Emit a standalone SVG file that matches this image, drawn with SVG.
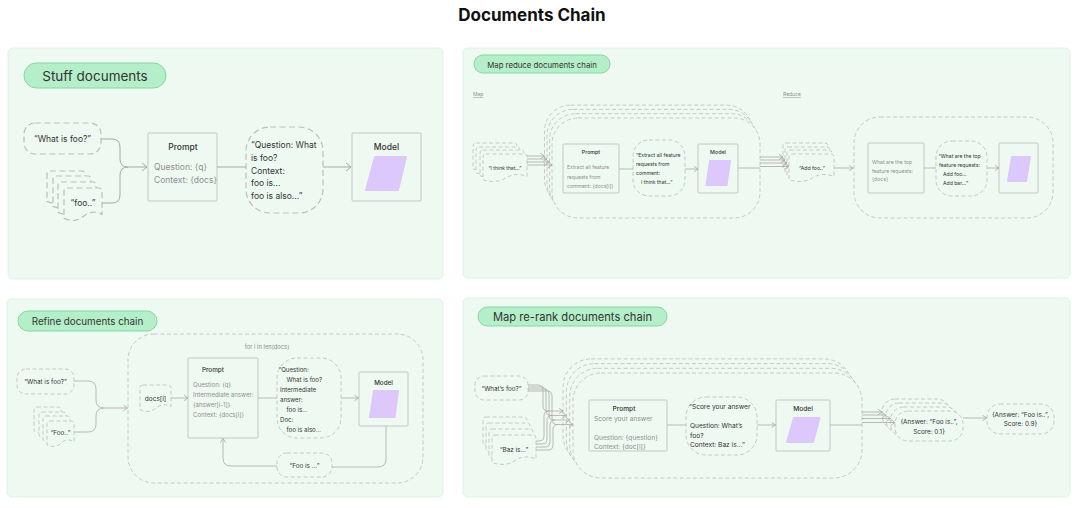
<svg xmlns="http://www.w3.org/2000/svg" xmlns:xlink="http://www.w3.org/1999/xlink" width="1080" height="508" viewBox="0 0 1080 508">
<style>
text{font-family:Inter,"Liberation Sans",sans-serif;fill:#333}
.title{font-size:17px;font-weight:700;fill:#111}
.panel{fill:#eefaf1;stroke:#dcf3e3;stroke-width:1}
.pill{fill:#b5efc9;stroke:#86d6a0;stroke-width:1}
.d1{fill:#eefaf1;stroke:#bdbdbd;stroke-width:1.2;stroke-dasharray:6 3.5}
.d2{fill:#eefaf1;stroke:#c2c2c2;stroke-width:0.9;stroke-dasharray:4 2.5}
.box{fill:#eefaf1;stroke:#c4c4c4;stroke-width:1}
.conn{fill:none;stroke:#a8a8a8;stroke-width:1}
.conn2{fill:none;stroke:#aaaaaa;stroke-width:0.8}
.para{fill:#dcc8fa;stroke:#dcc8fa;stroke-width:2;stroke-linejoin:round}
.g{fill:#8f8f8f}
.b{font-weight:500}
</style>
<defs>
<marker id="arr" markerUnits="userSpaceOnUse" markerWidth="6" markerHeight="10" viewBox="0 0 6 10" refX="5.5" refY="5" orient="auto"><path d="M0.5,1 L5.5,5 L0.5,9" fill="none" stroke="#a8a8a8" stroke-width="1"/></marker>
<marker id="arrs" markerUnits="userSpaceOnUse" markerWidth="5" markerHeight="7" viewBox="0 0 5 7" refX="4.5" refY="3.5" orient="auto"><path d="M0.5,0.8 L4.5,3.5 L0.5,6.2" fill="none" stroke="#a8a8a8" stroke-width="0.8"/></marker>
<path id="docA" d="M3,0 H35 Q38,0 38,3 V26.4 C30.4,22.4 24.7,23.8 19,28.7 C13.3,33.7 5.7,33 0,30.4 V3 Q0,0 3,0 Z"/>
<path id="docB" d="M3,0 H24 Q27,0 27,3 V20.8 C21.6,17.7 17.6,18.7 13.5,22.6 C9.5,26.5 4,26 0,23.9 V3 Q0,0 3,0 Z"/>
<path id="docC" d="M3,0 H28 Q31,0 31,3 V21.6 C24.8,18.4 20.2,19.4 15.5,23.5 C10.9,27.5 4.7,27 0,24.8 V3 Q0,0 3,0 Z"/>
<path id="docD" d="M3,0 H41 Q44,0 44,3 V22.4 C35.2,19 28.6,20.2 22,24.4 C15.4,28.6 6.6,28 0,25.8 V3 Q0,0 3,0 Z"/>
<path id="docE" d="M3,0 H42 Q45,0 45,3 V22.4 C36,19 29.3,20.2 22.5,24.4 C15.8,28.6 6.8,28 0,25.8 V3 Q0,0 3,0 Z"/>
<path id="docF" d="M3,0 H41 Q44,0 44,3 V24 C35.2,20.4 28.6,21.6 22,26.1 C15.4,30.6 6.6,30 0,27.6 V3 Q0,0 3,0 Z"/>
</defs>
<rect width="1080" height="508" fill="#ffffff"/>
<text class="title" x="532" y="21" text-anchor="middle">Documents Chain</text>

<!-- Panel 1: Stuff documents -->
<g id="panel-stuff">
<rect class="panel" x="8" y="48" width="435" height="231" rx="5"/>
<rect class="pill" x="24" y="63" width="142" height="25" rx="12.5"/>
<text x="95" y="81" font-size="13.5" text-anchor="middle">Stuff documents</text>
</g>
<g id="stuff-question">
<rect class="d1" x="24" y="123" width="77" height="31" rx="11"/>
<text x="62.5" y="142" font-size="8.5" text-anchor="middle">“What is foo?”</text>
</g>
<g id="stuff-docs">
<use xlink:href="#docA" class="d1" x="47" y="171"/>
<use xlink:href="#docA" class="d1" x="53" y="176"/>
<use xlink:href="#docA" class="d1" x="58" y="182"/>
<use xlink:href="#docA" class="d1" x="64" y="188"/>
<text x="83" y="206" font-size="8.5" text-anchor="middle">“foo..”</text>
</g>
<g id="stuff-prompt">
<rect class="box" x="148" y="133" width="69" height="68" rx="1"/>
<text class="b" x="183" y="150" font-size="8.5" text-anchor="middle">Prompt</text>
<text class="g" x="154" y="170" font-size="8.5">Question: {q}</text>
<text class="g" x="154" y="183" font-size="8.5">Context: {docs}</text>
</g>
<g id="stuff-filled">
<rect class="d1" x="246" y="127" width="77" height="86" rx="24"/>
<text x="251" y="148" font-size="8.5">“Question: What</text>
<text x="251" y="161" font-size="8.5">is foo?</text>
<text x="251" y="174" font-size="8.5">Context:</text>
<text x="251" y="186" font-size="8.5">foo is...</text>
<text x="251" y="199" font-size="8.5">foo is also...”</text>
</g>
<g id="stuff-model">
<rect class="box" x="352" y="133" width="69" height="68" rx="1"/>
<text class="b" x="386.5" y="150" font-size="8.5" text-anchor="middle">Model</text>
<path class="para" d="M375,157 H406 L398,190 H366 Z"/>
</g>

<!-- Panel 2: Map reduce -->
<g id="panel-mapreduce">
<rect class="panel" x="463" y="48" width="607" height="230" rx="5"/>
<rect class="pill" x="474" y="55" width="136" height="18" rx="9"/>
<text x="542" y="67.5" font-size="7.8" text-anchor="middle">Map reduce documents chain</text>
<text class="g" x="473" y="96" font-size="5" text-decoration="underline">Map</text>
<text class="g" x="783" y="96" font-size="5" text-decoration="underline">Reduce</text>
</g>
<g id="map-stack">
<rect class="d2" x="544.5" y="105.1" width="208" height="100" rx="26"/>
<rect class="d2" x="547" y="109.4" width="208" height="100" rx="26"/>
<rect class="d2" x="549.5" y="113.7" width="208" height="100" rx="26"/>
<rect class="d2" x="552" y="118" width="208" height="100" rx="26"/>
</g>
<g id="map-docs">
<use xlink:href="#docD" class="d2" x="473" y="143"/>
<use xlink:href="#docD" class="d2" x="476" y="147"/>
<use xlink:href="#docD" class="d2" x="480" y="150"/>
<use xlink:href="#docD" class="d2" x="483" y="154"/>
<text x="505" y="169.5" font-size="5" text-anchor="middle">“I think that...”</text>
</g>
<g id="map-prompt">
<rect class="box" x="563" y="144" width="56" height="49" rx="1"/>
<text class="b" x="591" y="154" font-size="5.3" text-anchor="middle">Prompt</text>
<text class="g" x="567" y="169" font-size="5.1">Extract all feature</text>
<text class="g" x="567" y="178.5" font-size="5.1">requests from</text>
<text class="g" x="567" y="188" font-size="5.1">comment: {docs[i]}</text>
</g>
<g id="map-filled">
<rect class="d2" x="633" y="140" width="52" height="56" rx="16"/>
<text x="636" y="157" font-size="5.1">“Extract all feature</text>
<text x="636" y="166" font-size="5.1">requests from</text>
<text x="636" y="175" font-size="5.1">comment:</text>
<text x="641" y="184" font-size="5.1">I think that...”</text>
</g>
<g id="map-model">
<rect class="box" x="698" y="144" width="40" height="49" rx="1"/>
<text class="b" x="718" y="154" font-size="5.3" text-anchor="middle">Model</text>
<path class="para" d="M710,161 H730 L726.5,185 H706.5 Z"/>
</g>
<g id="reduce-docs">
<use xlink:href="#docE" class="d2" x="783" y="143"/>
<use xlink:href="#docE" class="d2" x="785" y="147"/>
<use xlink:href="#docE" class="d2" x="787" y="150"/>
<use xlink:href="#docE" class="d2" x="789" y="154"/>
<text x="812" y="169.5" font-size="5.2" text-anchor="middle">“Add foo..”</text>
</g>
<g id="reduce-stack">
<rect class="d2" x="854" y="117" width="199" height="101" rx="26"/>
</g>
<g id="reduce-prompt">
<rect class="box" x="868" y="143" width="56" height="50" rx="1"/>
<text class="g" x="872" y="164" font-size="5.1">What are the top</text>
<text class="g" x="872" y="172.5" font-size="5.1">feature requests:</text>
<text class="g" x="872" y="181" font-size="5.1">{docs}</text>
</g>
<g id="reduce-filled">
<rect class="d2" x="936" y="141" width="51" height="55" rx="16"/>
<text x="938.5" y="158" font-size="5.1">“What are the top</text>
<text x="939" y="166.5" font-size="5.1">feature requests:</text>
<text x="943" y="175.5" font-size="5.1">Add foo...</text>
<text x="943" y="184.5" font-size="5.1">Add bar...”</text>
</g>
<g id="reduce-model">
<rect class="box" x="999" y="143" width="39" height="50" rx="1"/>
<path class="para" d="M1012,157 H1030 L1026,181 H1008 Z"/>
</g>

<!-- Panel 3: Refine -->
<g id="panel-refine">
<rect class="panel" x="7" y="299" width="436" height="198" rx="5"/>
<rect class="pill" x="18" y="311" width="139" height="20" rx="10"/>
<text x="87.5" y="324.5" font-size="9.8" text-anchor="middle">Refine documents chain</text>
</g>
<g id="refine-loop">
<rect class="d2" x="128" y="334" width="295" height="149" rx="26"/>
<text class="g" x="267" y="349" font-size="5.8" text-anchor="middle">for i in len(docs)</text>
</g>
<g id="refine-question">
<rect class="d2" x="17" y="369" width="57" height="25" rx="9"/>
<text x="45.5" y="383.5" font-size="6.3" text-anchor="middle">“What is foo?”</text>
</g>
<g id="refine-docs">
<use xlink:href="#docB" class="d2" x="34" y="407"/>
<use xlink:href="#docB" class="d2" x="39" y="412"/>
<use xlink:href="#docB" class="d2" x="43" y="416"/>
<use xlink:href="#docB" class="d2" x="47" y="421"/>
<text x="60.5" y="435" font-size="6.3" text-anchor="middle">“Foo..”</text>
</g>
<g id="refine-doci">
<use xlink:href="#docC" class="d2" x="140" y="385"/>
<text x="155.5" y="401" font-size="6.5" text-anchor="middle">docs[i]</text>
</g>
<g id="refine-prompt">
<rect class="box" x="188" y="358" width="70" height="80" rx="1"/>
<text class="b" x="202" y="372" font-size="6.3">Prompt</text>
<text class="g" x="193" y="387" font-size="6.1">Question: {q}</text>
<text class="g" x="193" y="397" font-size="6.1">Intermediate answer:</text>
<text class="g" x="193" y="407" font-size="6.1">{answer[i-1]}</text>
<text class="g" x="193" y="417" font-size="6.1">Context: {docs[i]}</text>
</g>
<g id="refine-filled">
<rect class="d2" x="277" y="358" width="64" height="80" rx="20"/>
<text x="278.5" y="371.5" font-size="6.1">“Question:</text>
<text x="286.5" y="381.5" font-size="6.1">What is foo?</text>
<text x="280" y="391.5" font-size="6.1">Intermediate</text>
<text x="280" y="401.5" font-size="6.1">answer:</text>
<text x="286.5" y="411.5" font-size="6.1">foo is...</text>
<text x="280" y="421.5" font-size="6.1">Doc:</text>
<text x="286.5" y="431.5" font-size="6.1">foo is also...</text>
</g>
<g id="refine-model">
<rect class="box" x="359" y="372" width="49" height="54" rx="1"/>
<text class="b" x="383.5" y="385" font-size="6.3" text-anchor="middle">Model</text>
<path class="para" d="M374,391 H398 L394.5,417 H370 Z"/>
</g>
<g id="refine-answer">
<rect class="d2" x="277" y="453" width="55" height="24" rx="10"/>
<text x="304.5" y="467.5" font-size="6.3" text-anchor="middle">“Foo is ...”</text>
</g>

<!-- Panel 4: Map re-rank -->
<g id="panel-rerank">
<rect class="panel" x="463" y="298" width="607" height="199" rx="5"/>
<rect class="pill" x="478" y="307" width="189" height="19" rx="9.5"/>
<text x="572.5" y="320.5" font-size="11.2" text-anchor="middle">Map re-rank documents chain</text>
</g>
<g id="rerank-stack">
<rect class="d2" x="563.1" y="358.9" width="289" height="105" rx="28"/>
<rect class="d2" x="566.4" y="363.6" width="289" height="105" rx="28"/>
<rect class="d2" x="569.7" y="368.3" width="289" height="105" rx="28"/>
<rect class="d2" x="573" y="373" width="289" height="105" rx="28"/>
</g>
<g id="rerank-question">
<rect class="d2" x="475" y="376" width="53" height="24" rx="9"/>
<text x="501.5" y="390.5" font-size="6.3" text-anchor="middle">“What’s foo?”</text>
</g>
<g id="rerank-docs">
<use xlink:href="#docF" class="d2" x="483" y="417"/>
<use xlink:href="#docF" class="d2" x="486" y="423"/>
<use xlink:href="#docF" class="d2" x="489" y="429"/>
<use xlink:href="#docF" class="d2" x="492" y="435"/>
<text x="514" y="452" font-size="6.3" text-anchor="middle">“Baz is...”</text>
</g>
<g id="rerank-prompt">
<rect class="box" x="589" y="400" width="78" height="51" rx="1"/>
<text class="b" x="624" y="410.5" font-size="6.6" text-anchor="middle">Prompt</text>
<text class="g" x="594" y="420.5" font-size="6.6">Score your answer</text>
<text class="g" x="594" y="439.5" font-size="6.6">Question: {question}</text>
<text class="g" x="594" y="449" font-size="6.6">Context: {doc[i]}</text>
</g>
<g id="rerank-filled">
<rect class="d2" x="686" y="397" width="71" height="58" rx="20"/>
<text x="689" y="409" font-size="6.6">“Score your answer</text>
<text x="690" y="428" font-size="6.6">Question: What’s</text>
<text x="690" y="437.5" font-size="6.6">foo?</text>
<text x="690" y="446.5" font-size="6.6">Context: Baz is...”</text>
</g>
<g id="rerank-model">
<rect class="box" x="776" y="400" width="54" height="51" rx="1"/>
<text class="b" x="803" y="410.5" font-size="6.6" text-anchor="middle">Model</text>
<path class="para" d="M794,418 H819.5 L813,442 H787 Z"/>
</g>
<g id="rerank-results">
<rect class="d2" x="882" y="399" width="68" height="30" rx="13"/>
<rect class="d2" x="886" y="403" width="68" height="30" rx="13"/>
<rect class="d2" x="890.5" y="407" width="68" height="30" rx="13"/>
<rect class="d2" x="895" y="411" width="68" height="30" rx="13"/>
<text x="929" y="424" font-size="6.4" text-anchor="middle">{Answer: “Foo is..”,</text>
<text x="929" y="433.5" font-size="6.4" text-anchor="middle">Score: 0.1}</text>
</g>
<g id="rerank-final">
<rect class="d2" x="987" y="404" width="67" height="30" rx="13"/>
<text x="1020.5" y="416.5" font-size="6.4" text-anchor="middle">{Answer: “Foo is..”,</text>
<text x="1020.5" y="426" font-size="6.4" text-anchor="middle">Score: 0.9}</text>
</g>

<g id="connectors">
<!-- stuff -->
<path class="conn" d="M101,139 H112 Q120,139 120,147 V159 Q120,167 128,167 H147" marker-end="url(#arr)"/>
<path class="conn" d="M102,203 H112 Q120,203 120,195 V175 Q120,167 128,167"/>
<path class="conn" d="M217,167 H246"/>
<path class="conn" d="M323,167 H351" marker-end="url(#arr)"/>
<!-- map reduce -->
<path class="conn2" d="M527,156 H544.5" marker-end="url(#arrs)"/>
<path class="conn2" d="M527,159 H547" marker-end="url(#arrs)"/>
<path class="conn2" d="M527,162 H549.5" marker-end="url(#arrs)"/>
<path class="conn2" d="M527,165 H552" marker-end="url(#arrs)"/>
<path class="conn2" d="M619,169 H633"/>
<path class="conn2" d="M685,169 H698" marker-end="url(#arrs)"/>
<path class="conn2" d="M738,168 H760"/>
<path class="conn2" d="M760,157 H783" marker-end="url(#arrs)"/>
<path class="conn2" d="M760,160 H785" marker-end="url(#arrs)"/>
<path class="conn2" d="M760,163 H787" marker-end="url(#arrs)"/>
<path class="conn2" d="M760,166.5 H789" marker-end="url(#arrs)"/>
<path class="conn2" d="M834,168 H853" marker-end="url(#arrs)"/>
<path class="conn2" d="M924,168 H936"/>
<path class="conn2" d="M987,168 H999" marker-end="url(#arrs)"/>
<!-- refine -->
<path class="conn2" d="M74,381 H88 Q96,381 96,389 V400 Q96,408 104,408 H127.5" marker-end="url(#arrs)"/>
<path class="conn2" d="M74,432 H88 Q96,432 96,424 V416 Q96,408 104,408"/>
<path class="conn2" d="M171,398 H188" marker-end="url(#arrs)"/>
<path class="conn2" d="M258,398 H277"/>
<path class="conn2" d="M341,398 H358.5" marker-end="url(#arrs)"/>
<path class="conn2" d="M386,426 V459 Q386,467 378,467 H332"/>
<path class="conn2" d="M277,466 H231 Q223,466 223,458 V438.5" marker-end="url(#arrs)"/>
<!-- re-rank -->
<path class="conn2" d="M528,385 H538 Q543,385 543,390 V406 Q543,411 548,411 H563" marker-end="url(#arrs)"/>
<path class="conn2" d="M528,387 H541 Q546,387 546,392 V410.5 Q546,415.5 551,415.5 H566.4" marker-end="url(#arrs)"/>
<path class="conn2" d="M528,389 H544 Q549,389 549,394 V415 Q549,420 554,420 H569.7" marker-end="url(#arrs)"/>
<path class="conn2" d="M528,391 H547 Q552,391 552,396 V419.5 Q552,424.5 557,424.5 H573" marker-end="url(#arrs)"/>
<path class="conn2" d="M536,441 H539 Q544,441 544,436 V416 Q544,411 549,411"/>
<path class="conn2" d="M536,444 H542 Q547,444 547,439 V420.5 Q547,415.5 552,415.5"/>
<path class="conn2" d="M536,447 H545 Q550,447 550,442 V425 Q550,420 555,420"/>
<path class="conn2" d="M536,450 H548 Q553,450 553,445 V429.5 Q553,424.5 558,424.5"/>
<path class="conn2" d="M667,425 H686"/>
<path class="conn2" d="M757,425 H775.5" marker-end="url(#arrs)"/>
<path class="conn2" d="M830,425 H862"/>
<path class="conn2" d="M862,412 H882" marker-end="url(#arrs)"/>
<path class="conn2" d="M862,415 H886" marker-end="url(#arrs)"/>
<path class="conn2" d="M862,418.5 H890.5" marker-end="url(#arrs)"/>
<path class="conn2" d="M862,422.5 H895" marker-end="url(#arrs)"/>
<path class="conn2" d="M963,418 H986.5" marker-end="url(#arrs)"/>
</g>
</svg>
